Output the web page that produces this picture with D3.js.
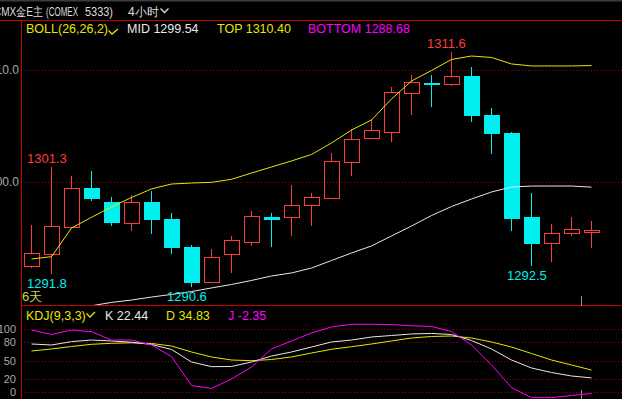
<!DOCTYPE html>
<html>
<head>
<meta charset="utf-8">
<script src="https://cdn.jsdelivr.net/npm/d3@7"></script>
<style>
  html, body { margin: 0; padding: 0; background: #000; overflow: hidden; }
  svg { display: block; }
  text { font-family: "Liberation Sans", Arial, sans-serif; }
</style>
</head>
<body>
<svg id="chart" width="622" height="399"></svg>
<script>
// 4h candles, oldest first
const opens  = [1292.5, 1293.5, 1295.9, 1299.5, 1298.2, 1296.3, 1298.2, 1296.7, 1294.2, 1291.0, 1293.5, 1294.6, 1296.85, 1296.8, 1297.9, 1298.5, 1301.7, 1303.9, 1304.4, 1307.9, 1308.85, 1308.7, 1309.5, 1306.0, 1304.4, 1296.9, 1294.5, 1295.4, 1295.5];
const closes = [1293.6, 1296.0, 1299.4, 1298.5, 1296.3, 1298.2, 1296.6, 1294.1, 1291.0, 1293.3, 1294.8, 1296.9, 1296.65, 1297.9, 1298.6, 1301.8, 1303.8, 1304.6, 1308.0, 1308.9, 1308.7, 1309.4, 1305.9, 1304.3, 1296.7, 1294.5, 1295.4, 1295.8, 1295.7];
const highs  = [1296.2, 1301.3, 1300.5, 1301.0, 1298.7, 1298.8, 1299.2, 1297.2, 1294.4, 1294.0, 1295.2, 1297.4, 1297.2, 1299.7, 1299.0, 1302.6, 1304.7, 1305.6, 1308.5, 1309.55, 1309.55, 1311.6, 1310.3, 1306.6, 1304.5, 1299.0, 1296.25, 1296.9, 1296.5];
const lows   = [1292.3, 1291.8, 1295.9, 1298.3, 1296.1, 1295.65, 1295.4, 1293.6, 1290.6, 1291.0, 1291.9, 1294.3, 1294.2, 1295.2, 1296.1, 1298.5, 1300.5, 1303.8, 1303.6, 1306.0, 1306.7, 1308.6, 1305.4, 1302.5, 1295.65, 1292.5, 1292.9, 1295.2, 1294.1];

// BOLL(26,26,2)
const bollTop = [1293.13, 1293.33, 1295.89, 1296.85, 1297.77, 1298.62, 1299.38, 1299.82, 1299.91, 1299.97, 1300.24, 1300.80, 1301.34, 1301.88, 1302.46, 1303.48, 1304.64, 1305.54, 1307.41, 1309.02, 1309.96, 1310.94, 1311.25, 1311.12, 1310.54, 1310.36, 1310.36, 1310.36, 1310.40];
const bollMid = [1288.30, 1288.48, 1288.66, 1288.95, 1289.25, 1289.46, 1289.73, 1289.96, 1290.22, 1290.54, 1290.85, 1291.21, 1291.61, 1291.88, 1292.32, 1292.99, 1293.66, 1294.29, 1295.18, 1296.07, 1297.01, 1297.81, 1298.48, 1299.11, 1299.55, 1299.64, 1299.64, 1299.64, 1299.54];

// KDJ(9,3,3)
const kVals = [76.2, 74.6, 80.0, 82.5, 81.0, 79.0, 75.4, 67.5, 47.6, 40.2, 40.5, 47.6, 57.1, 63.5, 71.4, 79.4, 82.5, 87.3, 89.7, 92.1, 92.9, 91.3, 81.7, 68.3, 50.8, 38.1, 31.0, 25.4, 22.44];
const dVals = [65.1, 68.3, 72.2, 75.7, 77.3, 78.1, 77.0, 73.0, 63.5, 55.6, 50.8, 49.7, 51.6, 55.6, 61.9, 67.8, 71.9, 76.2, 81.0, 85.7, 88.1, 88.9, 85.7, 79.4, 71.4, 61.1, 50.8, 42.9, 34.83];
const jVals = [98.4, 91.3, 98.4, 95.7, 82.5, 82.5, 74.6, 56.3, 10.3, 5.6, 20.6, 39.7, 68.3, 81.0, 93.7, 103.2, 107.5, 107.5, 107.1, 105.1, 104.0, 96.0, 74.6, 42.9, 7.1, -9.0, -9.0, -5.6, -2.35];

const priceTicks = [1300, 1310];
const kdjTicks = [0, 20, 50, 80, 100];
const highMarks = [1, 21];
const lowMarks = [1, 8, 25];

const RED = '#ff3c3c';
const CYAN = '#00f0f0';
const YELLOW = '#e6e600';
const WHITE = '#e8e8e8';
const MAGENTA = '#ff00ff';
const FRAME = '#c80000';
const GRID = '#9a0000';

const W = 622, H = 399;
const left = 21;
const mainTop = 20, mainBottom = 305;
const kdjTop = 306, kdjBottom = 399;

const svg = d3.select('#chart');
svg.append('rect').attr('width', W).attr('height', H).attr('fill', '#000');

const defs = svg.append('defs');
defs.append('clipPath').attr('id', 'clipMain')
  .append('rect').attr('x', left + 1).attr('y', mainTop + 1).attr('width', W - left).attr('height', mainBottom - mainTop - 1);
defs.append('clipPath').attr('id', 'clipKdj')
  .append('rect').attr('x', left + 1).attr('y', kdjTop).attr('width', W - left).attr('height', kdjBottom - kdjTop);

const idx = d3.range(opens.length);
const x = d3.scaleBand().domain(idx).range([21.5, 601.5]);
const cx = i => x(i) + x.bandwidth() / 2;

const y = d3.scaleLinear().domain([1300, 1310]).range([182, 70]);
const yk = d3.scaleLinear().domain([0, 100]).range([392, 329]);

// header
svg.append('rect').attr('x', 0).attr('y', 0).attr('width', W).attr('height', 1.5).attr('fill', '#3c3c3c');
const hdr = svg.append('g').attr('font-family', '"Noto Sans CJK SC", sans-serif').attr('font-size', 12).attr('fill', '#dcdcdc');
hdr.append('text').attr('x', -6).attr('y', 16).attr('textLength', 49).attr('lengthAdjust', 'spacingAndGlyphs').text('CMX金E主');
hdr.append('text').attr('x', 46).attr('y', 16).attr('textLength', 32).attr('lengthAdjust', 'spacingAndGlyphs').text('(COMEX');
hdr.append('text').attr('x', 85).attr('y', 16).attr('textLength', 28).attr('lengthAdjust', 'spacingAndGlyphs').text('5333)');
hdr.append('text').attr('x', 128).attr('y', 16).text('4小时');
svg.append('path').attr('d', 'M160.5,8.5 L164.5,12.5 L168.5,8.5').attr('fill', 'none').attr('stroke', '#dcdcdc').attr('stroke-width', 1.3);

// grid + axis labels, main panel
const priceAxis = d3.axisLeft(y).tickValues(priceTicks).tickSize(-(W - left)).tickPadding(2).tickFormat(d3.format('.1f'));
const pa = svg.append('g').attr('transform', `translate(${left},0)`).call(priceAxis);
pa.select('.domain').remove();
pa.selectAll('line').attr('stroke', GRID).attr('stroke-dasharray', '1,2').attr('shape-rendering', 'crispEdges');
pa.selectAll('text').attr('fill', '#a8a8a8').attr('font-size', 12).attr('font-family', '"Liberation Sans", Arial, sans-serif');

// grid + axis labels, KDJ panel
const kdjAxis = d3.axisLeft(yk).tickValues(kdjTicks).tickSize(-(W - left)).tickPadding(5);
const ka = svg.append('g').attr('transform', `translate(${left},0)`).call(kdjAxis);
ka.select('.domain').remove();
ka.selectAll('line').attr('stroke', GRID).attr('stroke-dasharray', '1,2').attr('shape-rendering', 'crispEdges');
ka.selectAll('text').attr('fill', '#a8a8a8').attr('font-size', 11).attr('font-family', '"Liberation Sans", Arial, sans-serif');

// frame
const frame = svg.append('g').attr('stroke', FRAME).attr('shape-rendering', 'crispEdges');
frame.append('line').attr('x1', 0).attr('x2', W).attr('y1', mainTop + 0.5).attr('y2', mainTop + 0.5);
frame.append('line').attr('x1', left + 0.5).attr('x2', left + 0.5).attr('y1', mainTop).attr('y2', H);
frame.append('line').attr('x1', left).attr('x2', W).attr('y1', mainBottom + 0.5).attr('y2', mainBottom + 0.5);

// candles
const main = svg.append('g').attr('clip-path', 'url(#clipMain)');
const candles = main.append('g').attr('shape-rendering', 'crispEdges');
idx.forEach(i => {
  const o = opens[i], c = closes[i];
  const top = y(Math.max(o, c)), bot = y(Math.min(o, c));
  const g = candles.append('g');
  if (c >= o) {
    g.append('line').attr('x1', cx(i)).attr('x2', cx(i)).attr('y1', y(highs[i])).attr('y2', top).attr('stroke', RED);
    g.append('line').attr('x1', cx(i)).attr('x2', cx(i)).attr('y1', bot).attr('y2', y(lows[i])).attr('stroke', RED);
    g.append('rect').attr('x', cx(i) - 7.5).attr('y', top).attr('width', 15).attr('height', Math.max(1, bot - top))
      .attr('fill', 'none').attr('stroke', RED);
  } else {
    g.append('line').attr('x1', cx(i)).attr('x2', cx(i)).attr('y1', y(highs[i])).attr('y2', y(lows[i])).attr('stroke', CYAN);
    g.append('rect').attr('x', cx(i) - 8).attr('y', top).attr('width', 16).attr('height', Math.max(2.5, bot - top))
      .attr('fill', CYAN);
  }
});

// BOLL lines
const priceLine = d3.line().x((d, i) => cx(i)).y(d => y(d));
main.append('path').datum(bollTop).attr('d', priceLine).attr('fill', 'none').attr('stroke', YELLOW).attr('stroke-width', 1);
main.append('path').datum(bollMid).attr('d', priceLine).attr('fill', 'none').attr('stroke', WHITE).attr('stroke-width', 1);

// extreme labels
const marks = main.append('g').attr('font-size', 13);
highMarks.forEach(i => {
  marks.append('text').attr('x', cx(i) - 24.5).attr('y', y(highs[i]) - 4).attr('fill', RED).text(highs[i].toFixed(1));
});
lowMarks.forEach(i => {
  marks.append('text').attr('x', cx(i) - 24.5).attr('y', y(lows[i]) + 14).attr('fill', CYAN).text(lows[i].toFixed(1));
});
svg.append('text').attr('x', 22).attr('y', 301).attr('font-size', 13).attr('fill', '#d2d250')
  .attr('font-family', '"Noto Sans CJK SC", sans-serif').text('6天');

// cursor stub
svg.append('line').attr('x1', 581.5).attr('x2', 581.5).attr('y1', 296).attr('y2', 306).attr('stroke', '#909090');
svg.append('line').attr('x1', 581.5).attr('x2', 581.5).attr('y1', 390).attr('y2', 399).attr('stroke', '#909090');

// BOLL legend
const leg = svg.append('g').attr('font-size', 12.5);
const last = opens.length - 1;
leg.append('text').attr('x', 26).attr('y', 33).attr('fill', YELLOW).text('BOLL(26,26,2)');
svg.append('path').attr('d', 'M108.5,30.5 L112,34 L118,29').attr('fill', 'none').attr('stroke', YELLOW).attr('stroke-width', 1.3);
leg.append('text').attr('x', 127).attr('y', 33).attr('fill', WHITE).text('MID ' + bollMid[last].toFixed(2));
leg.append('text').attr('x', 217).attr('y', 33).attr('fill', YELLOW).text('TOP ' + bollTop[last].toFixed(2));
leg.append('text').attr('x', 308).attr('y', 33).attr('fill', MAGENTA).text('BOTTOM 1288.68');

// KDJ lines
const kdj = svg.append('g').attr('clip-path', 'url(#clipKdj)');
const kdjLine = d3.line().x((d, i) => cx(i)).y(d => yk(d));
[[dVals, YELLOW], [kVals, WHITE], [jVals, MAGENTA]].forEach(([vals, col]) => {
  kdj.append('path').datum(vals).attr('d', kdjLine).attr('fill', 'none').attr('stroke', col).attr('stroke-width', 1);
});

// KDJ legend
const kl = svg.append('g').attr('font-size', 12.5);
kl.append('text').attr('x', 26).attr('y', 320).attr('fill', YELLOW).text('KDJ(9,3,3)');
svg.append('path').attr('d', 'M86.5,313.5 L90,317 L95,312').attr('fill', 'none').attr('stroke', YELLOW).attr('stroke-width', 1.3);
kl.append('text').attr('x', 105).attr('y', 320).attr('fill', WHITE).text('K ' + kVals[last].toFixed(2));
kl.append('text').attr('x', 166).attr('y', 320).attr('fill', YELLOW).text('D ' + dVals[last].toFixed(2));
kl.append('text').attr('x', 228).attr('y', 320).attr('fill', MAGENTA).text('J ' + jVals[last].toFixed(2));
</script>
</body>
</html>
